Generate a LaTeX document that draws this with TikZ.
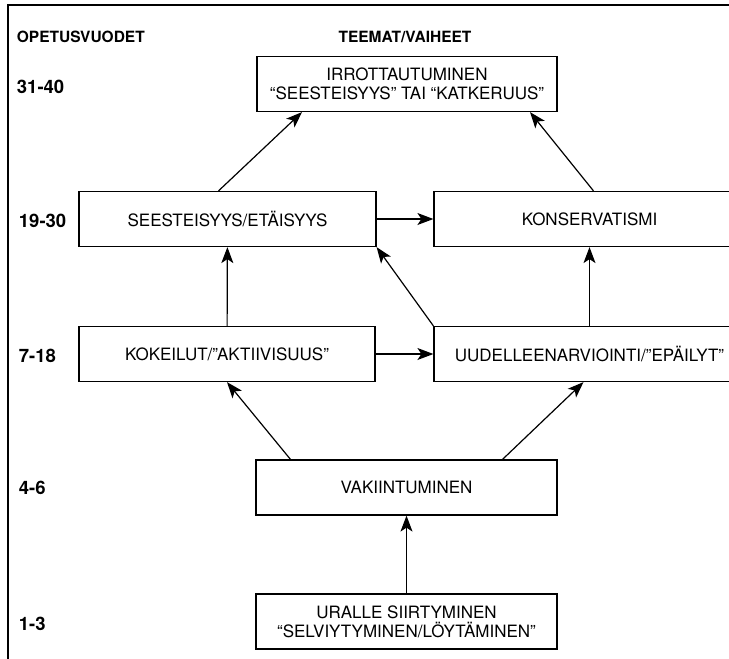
\documentclass[tikz,border=0pt]{standalone}
\usepackage{fontspec}
\setmainfont{TeX Gyre Heros}
\usetikzlibrary{arrows.meta}

\begin{document}
\begin{tikzpicture}[x=1pt,y=-1pt,line width=1.2pt,
  box/.style={draw, rectangle, align=center, inner sep=0pt, minimum height=55pt, font=\fontsize{17}{19}\selectfont},
  yrs/.style={anchor=west, font=\bfseries\fontsize{18.5}{20}\selectfont},
  head/.style={font=\bfseries\fontsize{15.5}{18}\selectfont},
  arr/.style={-{Stealth[length=16pt,width=12pt,inset=4pt]}}]
\useasboundingbox (0,0) rectangle (729,659);
% frame
\draw (8,659) -- (8,5) -- (729,5);
% headings and years
\node[head,anchor=west] (hyears) at (13,37) {OPETUSVUODET};
\node[head] (hthemes) at (405,37) {TEEMAT/VAIHEET};
\node[yrs] (y31) at (13,87) {31-40};
\node[yrs] (y19) at (15,221) {19-30};
\node[yrs] (y7) at (15,356) {7-18};
\node[yrs] (y4) at (15,488) {4-6};
\node[yrs] (y1) at (15,624) {1-3};
% phases
\node[box, minimum width=300pt] (irrot) at (407,84) {IRROTTAUTUMINEN\\“SEESTEISYYS” TAI “KATKERUUS”};
\node[box, minimum width=297pt] (seest) at (227.5,219) {SEESTEISYYS/ETÄISYYS};
\node[box, minimum width=311pt] (konserv) at (589.5,219) {KONSERVATISMI};
\node[box, minimum width=296pt] (kokeil) at (227,354) {KOKEILUT/”AKTIIVISUUS”};
\node[box, minimum width=311pt] (uudell) at (589.5,354) {UUDELLEENARVIOINTI/”EPÄILYT”};
\node[box, minimum width=301pt] (vakiint) at (406.5,487.5) {VAKIINTUMINEN};
\node[box, minimum width=301pt] (uralle) at (406.5,621.5) {URALLE SIIRTYMINEN\\“SELVIYTYMINEN/LÖYTÄMINEN”};
% connectors
\draw[arr] (uralle) -- (vakiint);
\draw[arr] ([xshift=-116pt]vakiint.north) -- (kokeil.south);
\draw[arr] ([xshift=96pt]vakiint.north) -- ([xshift=-6pt]uudell.south);
\draw[arr] (kokeil) -- (uudell);
\draw[arr] (kokeil) -- (seest);
\draw[arr] (uudell.north west) -- (seest.south east);
\draw[arr] (uudell) -- (konserv);
\draw[arr] (seest) -- (konserv);
\draw[arr] ([xshift=-9pt]seest.north) -- ([xshift=-105pt]irrot.south);
\draw[arr] ([xshift=4pt]konserv.north) -- ([xshift=123pt]irrot.south);
\end{tikzpicture}
\end{document}
